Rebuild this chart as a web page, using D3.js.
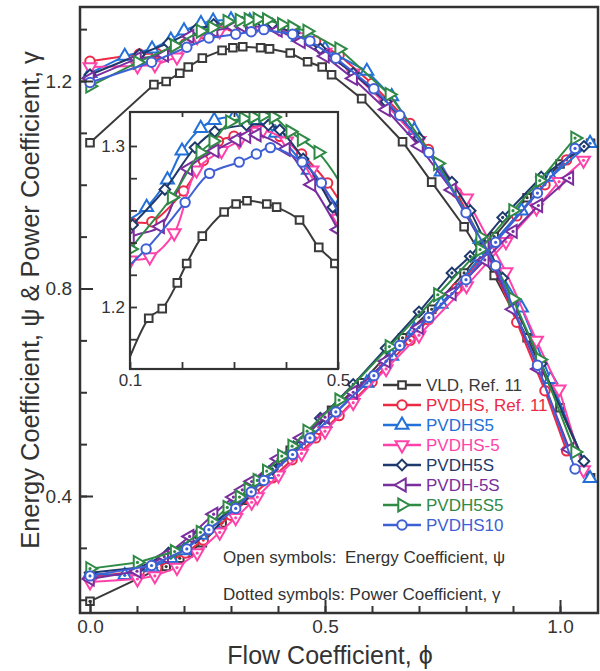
<!DOCTYPE html>
<html>
<head>
<meta charset="utf-8">
<script src="https://cdn.jsdelivr.net/npm/d3@7"></script>
<style>
  body { margin: 0; background: #fff; }
  text { font-family: "Liberation Sans", Arial, sans-serif; fill: #333; }
</style>
</head>
<body>
<svg id="chart" width="600" height="671"></svg>
<script>
// ---- data ----
const seriesNames = ["VLD, Ref. 11", "PVDHS, Ref. 11", "PVDHS5", "PVDHS-5", "PVDH5S", "PVDH-5S", "PVDH5S5", "PVDHS10"];

const vldPhi   = [0, 0.136, 0.162, 0.191, 0.209, 0.239, 0.281, 0.304, 0.325, 0.363, 0.382, 0.426, 0.463, 0.494, 0.514, 0.578, 0.665, 0.727, 0.796, 0.86, 0.93, 1.0, 1.065];
const vldPsi   = [1.081, 1.193, 1.199, 1.215, 1.227, 1.244, 1.259, 1.264, 1.266, 1.264, 1.262, 1.254, 1.237, 1.227, 1.212, 1.166, 1.083, 1.005, 0.919, 0.825, 0.705, 0.57, 0.435];
const vldGamma = [0.197, 0.255, 0.264, 0.28, 0.29, 0.31, 0.348, 0.372, 0.392, 0.428, 0.447, 0.488, 0.52, 0.547, 0.565, 0.618, 0.705, 0.76, 0.83, 0.9, 0.975, 1.04, 1.08];

const redPhi   = [0, 0.105, 0.142, 0.203, 0.241, 0.27, 0.3, 0.337, 0.35, 0.388, 0.43, 0.48, 0.53, 0.6, 0.681, 0.72, 0.78, 0.84, 0.908, 0.968, 1.014];
const redPsi   = [1.238, 1.252, 1.253, 1.272, 1.291, 1.303, 1.306, 1.309, 1.31, 1.306, 1.295, 1.277, 1.25, 1.195, 1.118, 1.068, 0.985, 0.88, 0.735, 0.603, 0.487];
const redGamma = [0.244, 0.255, 0.262, 0.29, 0.315, 0.34, 0.363, 0.395, 0.405, 0.435, 0.47, 0.512, 0.555, 0.62, 0.7, 0.74, 0.8, 0.868, 0.94, 1.0, 1.048];

const b5Phi   = [0, 0.074, 0.132, 0.172, 0.2, 0.236, 0.262, 0.3, 0.34, 0.38, 0.443, 0.5, 0.589, 0.642, 0.69, 0.747, 0.83, 0.918, 0.98, 1.064];
const b5Psi   = [1.215, 1.248, 1.262, 1.279, 1.297, 1.311, 1.316, 1.318, 1.316, 1.308, 1.285, 1.262, 1.219, 1.17, 1.105, 1.025, 0.895, 0.763, 0.625, 0.434];
const b5Gamma = [0.25, 0.247, 0.262, 0.28, 0.295, 0.325, 0.347, 0.375, 0.41, 0.442, 0.492, 0.54, 0.618, 0.67, 0.72, 0.77, 0.86, 0.95, 1.015, 1.08];

const pkPhi   = [0, 0.101, 0.138, 0.185, 0.228, 0.276, 0.31, 0.344, 0.356, 0.401, 0.45, 0.5, 0.56, 0.63, 0.7, 0.801, 0.885, 0.95, 0.998, 1.05];
const pkPsi   = [1.227, 1.229, 1.231, 1.246, 1.285, 1.297, 1.303, 1.309, 1.31, 1.303, 1.285, 1.255, 1.215, 1.155, 1.085, 0.974, 0.832, 0.7, 0.606, 0.45];
const pkGamma = [0.234, 0.24, 0.246, 0.262, 0.29, 0.33, 0.358, 0.388, 0.398, 0.44, 0.482, 0.525, 0.58, 0.645, 0.71, 0.805, 0.89, 0.955, 1.006, 1.047];

const nvPhi   = [0, 0.105, 0.167, 0.225, 0.263, 0.324, 0.366, 0.388, 0.433, 0.49, 0.56, 0.63, 0.7, 0.77, 0.809, 0.878, 0.96, 1.051];
const nvPsi   = [1.212, 1.251, 1.273, 1.299, 1.309, 1.313, 1.313, 1.31, 1.292, 1.262, 1.215, 1.16, 1.09, 1.005, 0.95, 0.82, 0.655, 0.467];
const nvGamma = [0.252, 0.262, 0.29, 0.32, 0.345, 0.395, 0.432, 0.452, 0.495, 0.55, 0.615, 0.685, 0.755, 0.83, 0.862, 0.937, 1.015, 1.074];

const puPhi   = [0, 0.1, 0.158, 0.212, 0.263, 0.305, 0.324, 0.344, 0.4, 0.449, 0.5, 0.56, 0.63, 0.7, 0.77, 0.84, 0.9, 0.954, 1.02];
const puPsi   = [1.205, 1.243, 1.25, 1.286, 1.297, 1.304, 1.306, 1.307, 1.298, 1.276, 1.248, 1.205, 1.145, 1.075, 0.99, 0.88, 0.76, 0.645, 0.49];
const puGamma = [0.24, 0.255, 0.283, 0.322, 0.365, 0.398, 0.412, 0.428, 0.472, 0.512, 0.552, 0.6, 0.66, 0.725, 0.79, 0.855, 0.91, 0.96, 1.013];

const gnPhi   = [0, 0.101, 0.18, 0.235, 0.26, 0.292, 0.318, 0.337, 0.356, 0.376, 0.408, 0.43, 0.462, 0.53, 0.637, 0.74, 0.83, 0.9, 0.957, 1.032];
const gnPsi   = [1.19, 1.236, 1.268, 1.296, 1.303, 1.315, 1.317, 1.318, 1.319, 1.318, 1.309, 1.304, 1.296, 1.262, 1.174, 1.041, 0.9, 0.78, 0.663, 0.485];
const gnGamma = [0.26, 0.272, 0.293, 0.33, 0.35, 0.378, 0.398, 0.413, 0.43, 0.448, 0.477, 0.496, 0.525, 0.585, 0.688, 0.788, 0.875, 0.95, 1.008, 1.09];

const bcPhi   = [0, 0.131, 0.206, 0.253, 0.31, 0.343, 0.37, 0.431, 0.468, 0.523, 0.604, 0.659, 0.721, 0.8, 0.863, 0.952, 1.032];
const bcPsi   = [1.197, 1.236, 1.265, 1.283, 1.29, 1.295, 1.299, 1.29, 1.277, 1.244, 1.185, 1.134, 1.062, 0.946, 0.844, 0.652, 0.452];
const bcGamma = [0.246, 0.266, 0.298, 0.335, 0.376, 0.408, 0.43, 0.48, 0.512, 0.562, 0.632, 0.69, 0.744, 0.817, 0.889, 0.984, 1.07];

const xTicks = [0, 0.1, 0.2, 0.3, 0.4, 0.5, 0.6, 0.7, 0.8, 0.9, 1.0];
const xLabels = [0, 0.5, 1.0];
const yTicks = [0.2, 0.3, 0.4, 0.5, 0.6, 0.7, 0.8, 0.9, 1.0, 1.1, 1.2, 1.3];
const yLabels = [0.4, 0.8, 1.2];
const insetXTicks = [0.1, 0.2, 0.3, 0.4, 0.5];
const insetXLabels = [0.1, 0.5];
const insetYTicks = [1.18, 1.2, 1.22, 1.24, 1.26, 1.28, 1.3];
const insetYLabels = [1.2, 1.3];

// ---- styling ----
const colors  = ["#3a3a3a", "#ec2a45", "#2270d8", "#ff42aa", "#1e3a6c", "#7a2e9e", "#2f8a45", "#3f5fd4"];
const symbols = ["square", "circle", "up", "down", "diamond", "left", "right", "circle"];

const series = [
    [vldPhi, vldPsi, vldGamma], [redPhi, redPsi, redGamma], [b5Phi, b5Psi, b5Gamma],
    [pkPhi, pkPsi, pkGamma], [nvPhi, nvPsi, nvGamma], [puPhi, puPsi, puGamma],
    [gnPhi, gnPsi, gnGamma], [bcPhi, bcPsi, bcGamma]
].map((s, i) => ({
    name: seriesNames[i], color: colors[i], sym: symbols[i],
    psi: s[0].map((p, j) => ({ x: p, y: s[1][j] })),
    gamma: s[0].map((p, j) => ({ x: p, y: s[2][j] }))
}));

const svg = d3.select("#chart");
const frame = { left: 80, right: 598, top: 7, bottom: 613 };

const x = d3.scaleLinear().domain([0, 1]).range([90, 560]);
const y = d3.scaleLinear().domain([0.4, 1.2]).range([496, 81]);

function symbolPath(kind) {
    if (kind === "square") return d3.symbol().type(d3.symbolSquare).size(58)();
    if (kind === "diamond") return d3.symbol().type(d3.symbolSquare).size(56)();
    if (kind === "circle") return d3.symbol().type(d3.symbolCircle).size(70)();
    return d3.symbol().type(d3.symbolTriangle).size(72)();
}
const rotation = { up: 0, down: 180, left: -90, right: 90, diamond: 45, square: 0, circle: 0 };

function drawMarkers(g, pts, s, dotted, xs, ys) {
    const m = g.selectAll(null).data(pts).enter().append("g")
        .attr("transform", d => "translate(" + xs(d.x) + "," + ys(d.y) + ") rotate(" + rotation[s.sym] + ")");
    m.append("path")
        .attr("d", symbolPath(s.sym))
        .attr("fill", "#fff")
        .attr("stroke", s.color)
        .attr("stroke-width", 2);
    if (dotted) {
        m.append("circle").attr("r", 1.6).attr("fill", s.color);
    }
}

// ---- main plot ----
const main = svg.append("g");
const lineMain = d3.line().x(d => x(d.x)).y(d => y(d.y));

series.forEach(s => {
    const g = main.append("g");
    ["psi", "gamma"].forEach(k => {
        g.append("path")
            .attr("d", lineMain(s[k]))
            .attr("fill", "none")
            .attr("stroke", s.color)
            .attr("stroke-width", 2);
    });
    drawMarkers(g, s.psi, s, false, x, y);
    drawMarkers(g, s.gamma, s, true, x, y);
});

// frame
svg.append("rect")
    .attr("x", frame.left).attr("y", frame.top)
    .attr("width", frame.right - frame.left).attr("height", frame.bottom - frame.top)
    .attr("fill", "none").attr("stroke", "#333").attr("stroke-width", 2.5);

// x axis ticks (inward)
const xAxisG = svg.append("g").attr("transform", "translate(0," + frame.bottom + ")");
xAxisG.append("g").call(d3.axisBottom(x).tickValues(xTicks).tickSize(-7).tickFormat(""));
xAxisG.append("g").call(d3.axisBottom(x).tickValues(xLabels).tickSize(-13).tickPadding(7).tickFormat(d3.format(".1f")));
xAxisG.selectAll(".domain").remove();
xAxisG.selectAll("line").attr("stroke", "#333").attr("stroke-width", 2);
xAxisG.selectAll("text").style("font-size", "19px").style("font-family", "Liberation Sans, Arial, sans-serif").attr("fill", "#333");

const yAxisG = svg.append("g").attr("transform", "translate(" + frame.left + ",0)");
yAxisG.append("g").call(d3.axisLeft(y).tickValues(yTicks).tickSize(-7).tickFormat(""));
yAxisG.append("g").call(d3.axisLeft(y).tickValues(yLabels).tickSize(-13).tickPadding(8).tickFormat(d3.format(".1f")));
yAxisG.selectAll(".domain").remove();
yAxisG.selectAll("line").attr("stroke", "#333").attr("stroke-width", 2);
yAxisG.selectAll("text").style("font-size", "19px").style("font-family", "Liberation Sans, Arial, sans-serif").attr("fill", "#333");

// axis titles
svg.append("text")
    .attr("x", 330).attr("y", 664)
    .attr("text-anchor", "middle")
    .style("font-size", "25px")
    .text("Flow Coefficient, \u03D5");

svg.append("text")
    .attr("transform", "translate(39,300) rotate(-90)")
    .attr("text-anchor", "middle")
    .style("font-size", "25.5px")
    .text("Energy Coefficient, \u03C8 & Power Coefficient, \u03B3");

// ---- inset ----
const inset = { left: 130, right: 338, top: 112, bottom: 369 };
const ix = d3.scaleLinear().domain([0.1, 0.5]).range([inset.left, inset.right]);
const iy = d3.scaleLinear().domain([1.2, 1.3]).range([307, 146]);

svg.append("defs").append("clipPath").attr("id", "insetClip")
    .append("rect")
    .attr("x", inset.left).attr("y", inset.top)
    .attr("width", inset.right - inset.left).attr("height", inset.bottom - inset.top);

svg.append("rect")
    .attr("x", inset.left).attr("y", inset.top)
    .attr("width", inset.right - inset.left).attr("height", inset.bottom - inset.top)
    .attr("fill", "#fff");

const insetG = svg.append("g").attr("clip-path", "url(#insetClip)");
const lineInset = d3.line().x(d => ix(d.x)).y(d => iy(d.y)).curve(d3.curveCatmullRom.alpha(0.5));
series.forEach(s => {
    const g = insetG.append("g");
    g.append("path")
        .attr("d", lineInset(s.psi))
        .attr("fill", "none")
        .attr("stroke", s.color)
        .attr("stroke-width", 2);
    drawMarkers(g, s.psi.filter(d => d.x >= 0.095 && d.x <= 0.51), s, false, ix, iy);
});

svg.append("rect")
    .attr("x", inset.left).attr("y", inset.top)
    .attr("width", inset.right - inset.left).attr("height", inset.bottom - inset.top)
    .attr("fill", "none").attr("stroke", "#333").attr("stroke-width", 2.2);

const ixAxis = svg.append("g").attr("transform", "translate(0," + inset.bottom + ")");
ixAxis.append("g").call(d3.axisBottom(ix).tickValues(insetXTicks).tickSize(-7).tickFormat(""));
ixAxis.append("g").call(d3.axisBottom(ix).tickValues(insetXLabels).tickSize(0).tickPadding(5).tickFormat(d3.format(".1f")));
const ixTop = svg.append("g").attr("transform", "translate(0," + inset.top + ")");
ixTop.call(d3.axisTop(ix).tickValues(insetXTicks.slice(1, 4)).tickSize(-5).tickFormat(""));
const iyAxis = svg.append("g").attr("transform", "translate(" + inset.left + ",0)");
iyAxis.append("g").call(d3.axisLeft(iy).tickValues(insetYTicks).tickSize(-7).tickFormat(""));
iyAxis.append("g").call(d3.axisLeft(iy).tickValues(insetYLabels).tickSize(0).tickPadding(5).tickFormat(d3.format(".1f")));
[ixAxis, ixTop, iyAxis].forEach(a => {
    a.selectAll(".domain").remove();
    a.selectAll("line").attr("stroke", "#333").attr("stroke-width", 1.8);
    a.selectAll("text").style("font-size", "17px").style("font-family", "Liberation Sans, Arial, sans-serif").attr("fill", "#333");
});

// ---- legend ----
const legend = svg.append("g");
series.forEach((s, i) => {
    const ly = 385 + i * 20;
    const g = legend.append("g");
    g.append("line")
        .attr("x1", 383).attr("x2", 421).attr("y1", ly).attr("y2", ly)
        .attr("stroke", s.color).attr("stroke-width", 2.5);
    drawMarkers(g, [{ x: 0, y: 0 }], s, false,
        () => 402, () => ly);
    g.append("text")
        .attr("x", 426).attr("y", ly)
        .attr("dy", "0.36em")
        .style("font-size", "17px")
        .style("fill", s.color)
        .text(s.name);
});

// notes
svg.append("text")
    .attr("x", 223).attr("y", 600)
    .style("font-size", "17px")
    .text("Dotted symbols: Power Coefficient, \u03B3");
svg.append("text")
    .attr("x", 223).attr("y", 563)
    .style("font-size", "17px")
    .text("Open symbols:");
const tmp = svg.append("text").style("font-size", "17px").text("Dotted symbols: ");
const off = tmp.node().getComputedTextLength();
tmp.remove();
svg.append("text")
    .attr("x", 223 + off).attr("y", 563)
    .style("font-size", "17px")
    .text("Energy Coefficient, \u03C8");
</script>
</body>
</html>
